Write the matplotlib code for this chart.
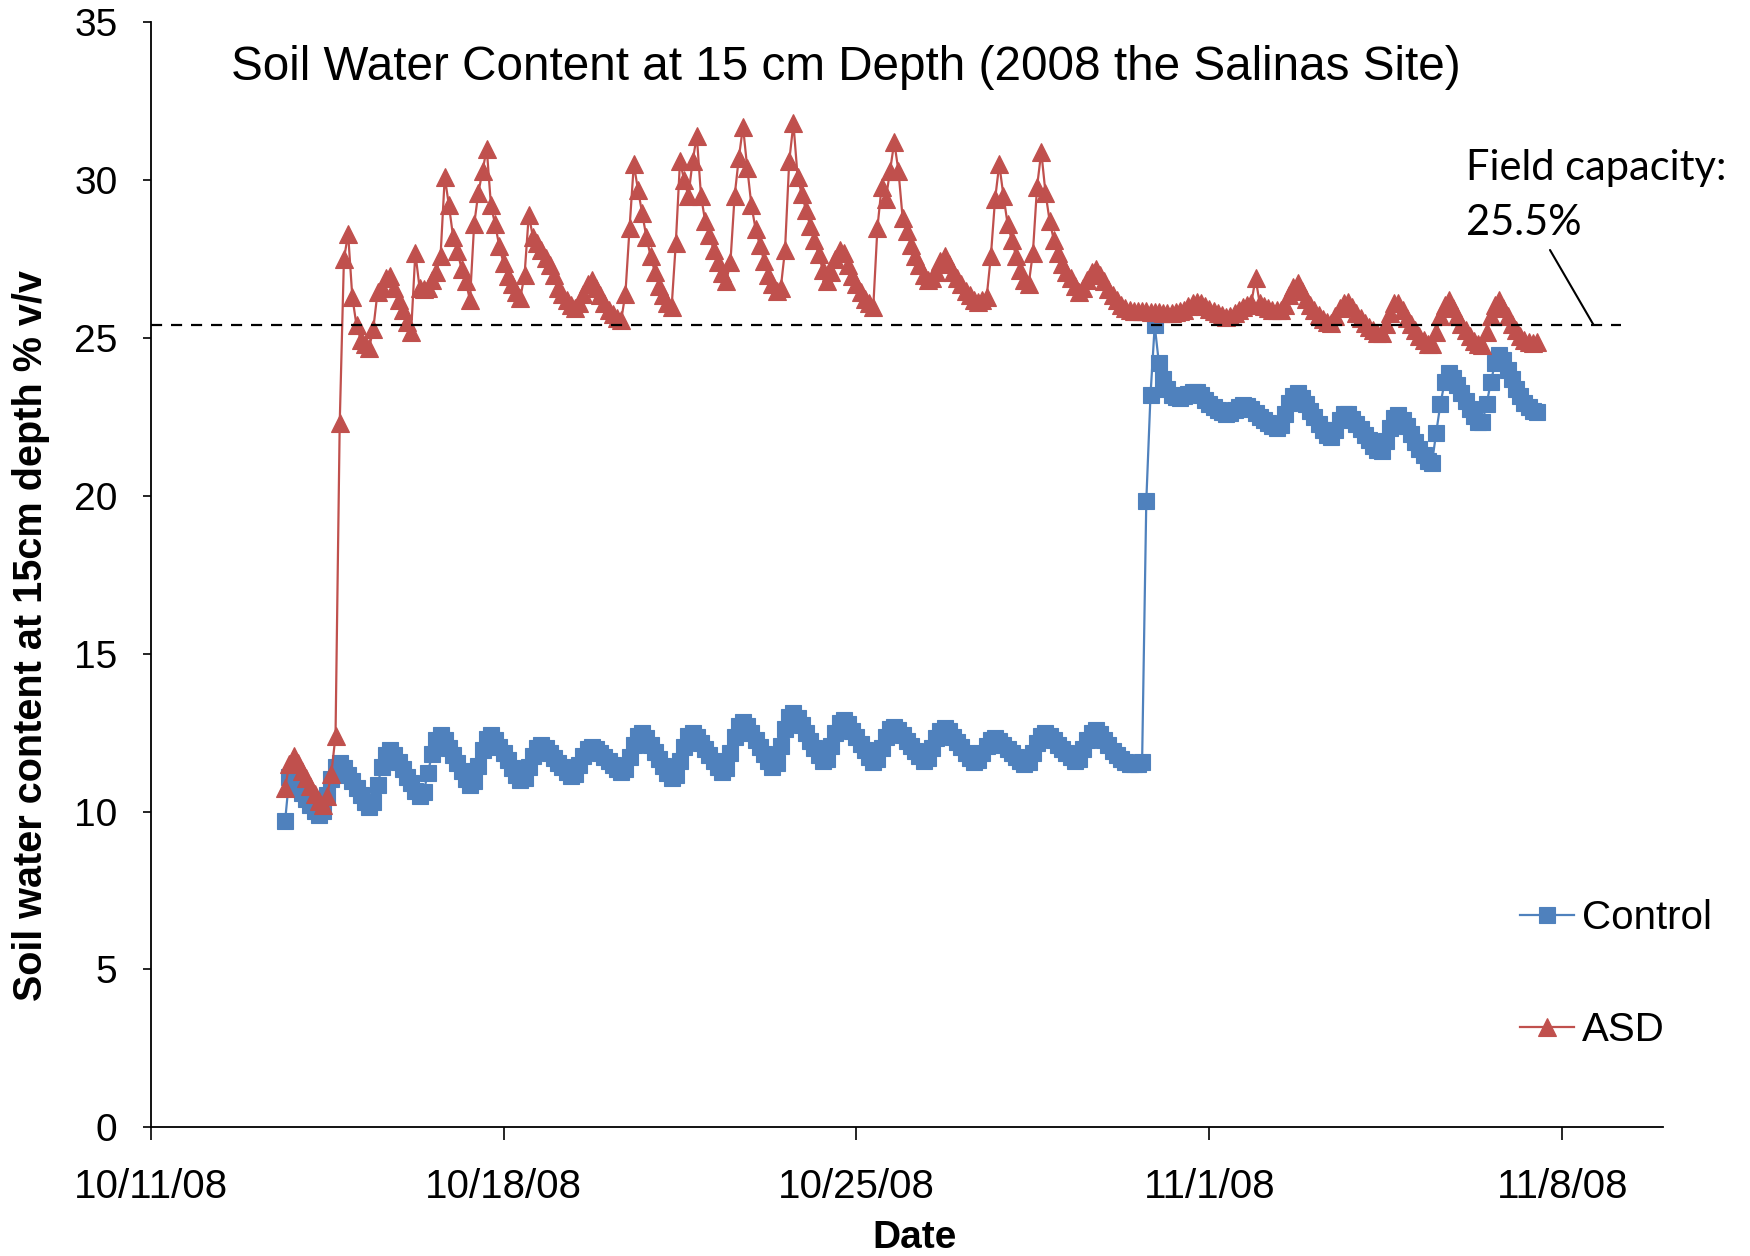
"""Soil water content at 15 cm depth, Control vs ASD (Salinas site, 2008)."""

import datetime as dt

import matplotlib

matplotlib.use("Agg")
import pandas as pd
from matplotlib import pyplot as plt
from matplotlib.ticker import FuncFormatter

plt.rcParams["font.family"] = ["Liberation Sans", "DejaVu Sans"]

# sensor readings every 2 hours, first one on 10/13/08 at 16:00
START = dt.datetime(2008, 10, 13, 16)

control = [
    # 10/13 (16:00-22:00)
    9.70, 11.10, 10.97, 10.79,
    # 10/14
    10.60, 10.41, 10.22, 10.03, 9.88, 10.01, 10.52, 11.02, 11.40, 11.53, 11.39, 11.17,
    # 10/15
    10.96, 10.74, 10.53, 10.31, 10.14, 10.29, 10.84, 11.40, 11.80, 11.95, 11.80, 11.57,
    # 10/16
    11.34, 11.11, 10.89, 10.66, 10.48, 10.63, 11.23, 11.83, 12.27, 12.43, 12.27, 12.02,
    # 10/17
    11.78, 11.53, 11.29, 11.04, 10.85, 10.96, 11.45, 11.94, 12.30, 12.43, 12.28, 12.06,
    # 10/18
    11.84, 11.62, 11.39, 11.17, 10.99, 11.07, 11.41, 11.76, 12.01, 12.10, 12.00, 11.85,
    # 10/19
    11.70, 11.55, 11.40, 11.25, 11.13, 11.20, 11.48, 11.77, 11.97, 12.05, 11.97, 11.84,
    # 10/20
    11.72, 11.59, 11.47, 11.34, 11.25, 11.35, 11.73, 12.11, 12.39, 12.49, 12.34, 12.12,
    # 10/21
    11.89, 11.67, 11.45, 11.22, 11.05, 11.15, 11.60, 12.05, 12.38, 12.50, 12.37, 12.18,
    # 10/22
    11.98, 11.79, 11.60, 11.40, 11.25, 11.37, 11.87, 12.36, 12.72, 12.85, 12.70, 12.48,
    # 10/23
    12.26, 12.04, 11.82, 11.60, 11.42, 11.55, 12.08, 12.60, 12.98, 13.12, 12.96, 12.73,
    # 10/24
    12.49, 12.25, 12.01, 11.78, 11.59, 11.68, 12.08, 12.49, 12.79, 12.90, 12.76, 12.56,
    # 10/25
    12.36, 12.15, 11.95, 11.74, 11.58, 11.66, 12.00, 12.35, 12.60, 12.69, 12.58, 12.41,
    # 10/26
    12.25, 12.08, 11.91, 11.75, 11.61, 11.69, 12.01, 12.33, 12.56, 12.65, 12.54, 12.37,
    # 10/27
    12.21, 12.04, 11.87, 11.71, 11.57, 11.62, 11.85, 12.09, 12.26, 12.32, 12.24, 12.11,
    # 10/28
    11.98, 11.85, 11.73, 11.60, 11.50, 11.57, 11.87, 12.18, 12.40, 12.48, 12.39, 12.26,
    # 10/29
    12.12, 11.99, 11.85, 11.72, 11.61, 11.68, 11.98, 12.28, 12.50, 12.58, 12.45, 12.28,
    # 10/30
    12.10, 11.93, 11.78, 11.65, 11.56, 11.52, 11.50, 11.50, 11.58, 19.85, 23.20, 25.40,
    # 10/31
    24.20, 23.70, 23.40, 23.20, 23.12, 23.10, 23.15, 23.22, 23.28, 23.30, 23.20, 23.05,
    # 11/1
    22.92, 22.82, 22.72, 22.65, 22.60, 22.62, 22.72, 22.83, 22.88, 22.85, 22.75, 22.62,
    # 11/2
    22.50, 22.40, 22.30, 22.20, 22.15, 22.26, 22.60, 22.93, 23.17, 23.26, 23.10, 22.90,
    # 11/3
    22.70, 22.50, 22.29, 22.08, 21.92, 21.87, 22.10, 22.40, 22.58, 22.58, 22.45, 22.28,
    # 11/4
    22.12, 21.94, 21.76, 21.58, 21.45, 21.42, 21.75, 22.15, 22.48, 22.56, 22.40, 22.20,
    # 11/5
    21.95, 21.72, 21.50, 21.30, 21.12, 21.04, 22.00, 22.90, 23.60, 23.90, 23.75, 23.50,
    # 11/6
    23.25, 23.00, 22.75, 22.52, 22.35, 22.35, 22.90, 23.60, 24.20, 24.46, 24.30, 24.00,
    # 11/7 (00:00-12:00)
    23.70, 23.40, 23.15, 22.95, 22.80, 22.70, 22.67,
]

asd = [
    # 10/13 (16:00-22:00)
    10.75, 11.50, 11.75, 11.55,
    # 10/14
    11.30, 11.05, 10.80, 10.55, 10.35, 10.22, 10.50, 11.20, 12.40, 22.30, 27.50, 28.30,
    # 10/15
    26.30, 25.40, 24.95, 24.80, 24.68, 25.30, 26.45, 26.60, 26.90, 26.95, 26.60, 26.20,
    # 10/16
    25.90, 25.50, 25.20, 27.70, 26.60, 26.55, 26.60, 26.85, 27.10, 27.60, 30.10, 29.20,
    # 10/17
    28.20, 27.75, 27.20, 26.80, 26.20, 28.60, 29.60, 30.30, 31.00, 29.20, 28.60, 27.90,
    # 10/18
    27.37, 26.95, 26.70, 26.45, 26.28, 27.00, 28.90, 28.20, 28.00, 27.80, 27.55, 27.30,
    # 10/19
    27.00, 26.60, 26.40, 26.20, 26.05, 25.95, 26.10, 26.40, 26.70, 26.84, 26.60, 26.35,
    # 10/20
    26.10, 25.90, 25.75, 25.62, 25.57, 26.40, 28.50, 30.50, 29.70, 28.95, 28.20, 27.60,
    # 10/21
    27.10, 26.65, 26.35, 26.10, 25.97, 28.00, 30.60, 30.00, 29.50, 30.60, 31.40, 29.50,
    # 10/22
    28.70, 28.25, 27.80, 27.40, 27.05, 26.80, 27.40, 29.50, 30.70, 31.70, 30.40, 29.20,
    # 10/23
    28.45, 27.95, 27.45, 27.00, 26.70, 26.50, 26.60, 27.80, 30.60, 31.80, 30.10, 29.55,
    # 10/24
    29.05, 28.55, 28.10, 27.65, 27.15, 26.80, 27.10, 27.50, 27.80, 27.70, 27.30, 26.95,
    # 10/25
    26.70, 26.45, 26.25, 26.10, 25.97, 28.50, 29.80, 29.40, 30.30, 31.20, 30.30, 28.80,
    # 10/26
    28.40, 27.95, 27.60, 27.30, 27.00, 26.85, 26.90, 27.10, 27.45, 27.60, 27.35, 27.10,
    # 10/27
    26.90, 26.70, 26.50, 26.35, 26.22, 26.15, 26.20, 26.30, 27.60, 29.40, 30.50, 29.50,
    # 10/28
    28.60, 28.10, 27.60, 27.15, 26.85, 26.70, 27.70, 29.80, 30.90, 29.60, 28.70, 28.10,
    # 10/29
    27.70, 27.35, 27.10, 26.90, 26.65, 26.47, 26.60, 26.85, 27.10, 27.20, 27.00, 26.80,
    # 10/30
    26.55, 26.35, 26.20, 26.05, 25.95, 25.90, 25.87, 25.85, 25.85, 25.85, 25.84, 25.83,
    # 10/31
    25.82, 25.80, 25.80, 25.80, 25.82, 25.85, 25.90, 26.00, 26.10, 26.15, 26.10, 26.00,
    # 11/1
    25.92, 25.85, 25.78, 25.72, 25.68, 25.70, 25.78, 25.88, 25.98, 26.05, 26.10, 26.90,
    # 11/2
    26.10, 26.02, 25.95, 25.90, 25.88, 25.90, 26.05, 26.35, 26.62, 26.73, 26.50, 26.25,
    # 11/3
    26.05, 25.88, 25.73, 25.60, 25.50, 25.47, 25.70, 25.95, 26.12, 26.15, 25.98, 25.80,
    # 11/4
    25.62, 25.48, 25.35, 25.25, 25.17, 25.16, 25.45, 25.80, 26.10, 26.12, 25.90, 25.65,
    # 11/5
    25.45, 25.25, 25.08, 24.93, 24.82, 24.80, 25.20, 25.70, 26.05, 26.20, 25.95, 25.70,
    # 11/6
    25.45, 25.25, 25.05, 24.92, 24.82, 24.78, 25.20, 25.70, 26.05, 26.20, 25.95, 25.70,
    # 11/7 (00:00-12:00)
    25.45, 25.25, 25.08, 24.95, 24.87, 24.83, 24.88,
]

# field capacity (labelled 25.5 %, drawn where the original puts it)
field_capacity = 25.42
x_ticks = pd.date_range("2008-10-11", periods=5, freq="7D")
y_ticks = [0, 5, 10, 15, 20, 25, 30, 35]

BLUE = "#4F81BD"
RED = "#C0504D"

assert len(control) == len(asd)
times = pd.date_range(START, periods=len(control), freq="2h")

fig = plt.figure(figsize=(17.5, 12.56), dpi=100)
ax = fig.add_axes([0.0861, 0.1025, 0.8642, 0.8797])

ax.plot(times, control, color=BLUE, lw=1.6, marker="s", ms=11.5, mec=BLUE, mew=0.8,
        label="Control", zorder=3)
ax.plot(times, asd, color=RED, lw=1.6, marker="^", ms=12.5, mec=RED, mew=0.8,
        label="ASD", zorder=4)

# field capacity reference
ax.axhline(field_capacity, xmin=0, xmax=0.972, color="black", lw=1.6,
           dashes=(5, 4), zorder=5)
ax.annotate("", xy=(pd.Timestamp("2008-11-08 14:53"), field_capacity), xycoords="data",
            xytext=(1550 / 1750, 1 - 250 / 1256), textcoords="figure fraction",
            arrowprops=dict(arrowstyle="-", color="black", lw=1.5, shrinkA=0, shrinkB=0))
fig.text(1466 / 1750, 1 - 180 / 1256, "Field capacity:", family="Lato", fontsize=30,
         ha="left", va="baseline")
fig.text(1466 / 1750, 1 - 235 / 1256, "25.5%", family="Lato", fontsize=30,
         ha="left", va="baseline")

ax.set_xlim(pd.Timestamp("2008-10-11"), pd.Timestamp("2008-11-10"))
ax.set_ylim(0, 35)
ax.set_xticks(x_ticks)
ax.xaxis.set_major_formatter(FuncFormatter(
    lambda v, _: "{d.month}/{d.day}/{d:%y}".format(d=matplotlib.dates.num2date(v))))
ax.set_yticks(y_ticks)

for side in ("top", "right"):
    ax.spines[side].set_visible(False)
for side in ("left", "bottom"):
    ax.spines[side].set_linewidth(1.3)
ax.tick_params(axis="x", direction="out", length=9, width=1.2, pad=20, labelsize=29)
ax.tick_params(axis="y", direction="out", length=6, width=1.2, pad=18, labelsize=28)

fig.text(846 / 1750, 1 - 80 / 1256, "Soil Water Content at 15 cm Depth (2008 the Salinas Site)",
         ha="center", va="baseline", fontsize=34.3)
fig.text(31 / 1750, 1 - 636 / 1256, "Soil water content at 15cm depth % v/v",
         rotation=90, ha="center", va="center", fontsize=28.5, fontweight="bold")
fig.text(915 / 1750, 1 - 1248 / 1256, "Date", ha="center", va="baseline",
         fontsize=28, fontweight="bold")

ax.legend(loc="center left", bbox_to_anchor=(1520 / 1750, 1 - 974 / 1256),
          bbox_transform=fig.transFigure, frameon=False, fontsize=29,
          borderpad=0, borderaxespad=0, handlelength=1.33, handletextpad=0.2,
          labelspacing=1.85)

fig.savefig("out.png", dpi=100)
